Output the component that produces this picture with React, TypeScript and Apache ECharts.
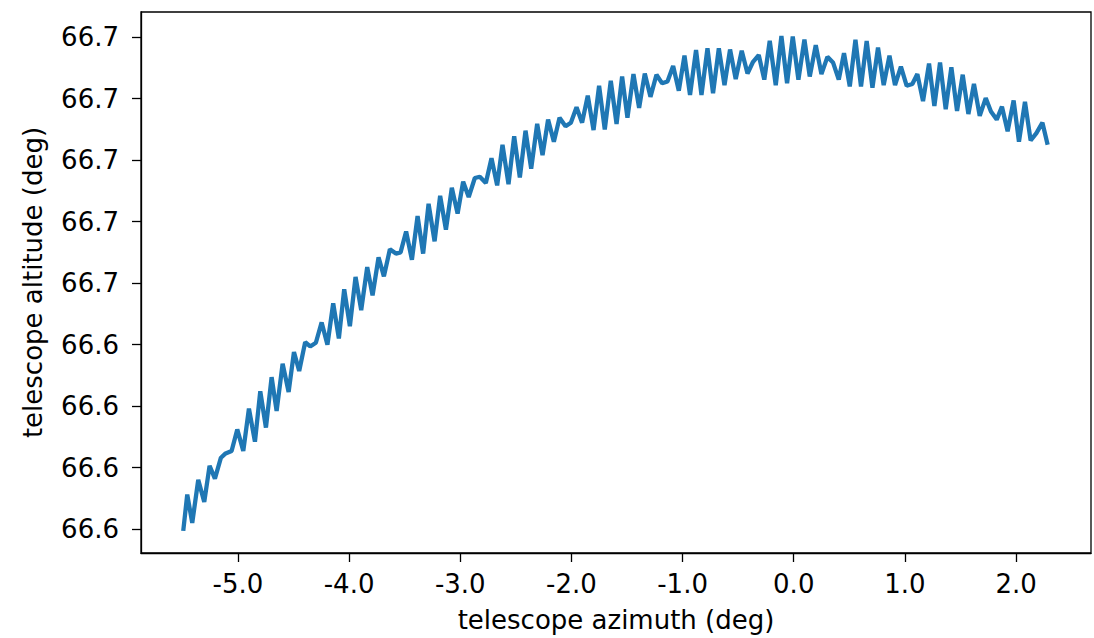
import React, { useEffect, useRef } from "react";
import * as echarts from "echarts";

// telescope azimuth (deg)
const azimuth = [
  -5.492, -5.456, -5.411, -5.357, -5.303, -5.255, -5.207, -5.153, -5.111, -5.057,
  -5.006, -4.952, -4.901, -4.847, -4.799, -4.748, -4.697, -4.652, -4.598, -4.544,
  -4.496, -4.449, -4.395, -4.350, -4.299, -4.247, -4.195, -4.143, -4.092, -4.044,
  -3.993, -3.942, -3.891, -3.837, -3.789, -3.735, -3.687, -3.633, -3.579, -3.537,
  -3.487, -3.435, -3.384, -3.334, -3.285, -3.231, -3.181, -3.129, -3.076, -3.024,
  -2.974, -2.924, -2.869, -2.824, -2.770, -2.719, -2.668, -2.620, -2.566, -2.515,
  -2.464, -2.413, -2.362, -2.308, -2.260, -2.210, -2.158, -2.107, -2.053, -2.005,
  -1.954, -1.904, -1.853, -1.801, -1.751, -1.700, -1.646, -1.594, -1.544, -1.496,
  -1.442, -1.391, -1.340, -1.289, -1.235, -1.184, -1.136, -1.085, -1.034, -0.983,
  -0.933, -0.879, -0.830, -0.776, -0.726, -0.674, -0.623, -0.573, -0.522, -0.468,
  -0.416, -0.366, -0.315, -0.265, -0.216, -0.162, -0.111, -0.060, -0.009, 0.042,
  0.096, 0.144, 0.198, 0.249, 0.303, 0.353, 0.405, 0.452, 0.504, 0.555,
  0.605, 0.656, 0.708, 0.758, 0.809, 0.861, 0.911, 0.964, 1.016, 1.067,
  1.112, 1.163, 1.217, 1.265, 1.316, 1.367, 1.418, 1.469, 1.520, 1.571,
  1.621, 1.673, 1.727, 1.774, 1.826, 1.873, 1.924, 1.978, 2.026, 2.080,
  2.131, 2.183, 2.237, 2.284,
];

// telescope altitude (deg)
const altitude = [
  66.64597, 66.64656, 66.6461, 66.6468, 66.64644, 66.64703, 66.64682, 66.64716, 66.64723, 66.64727,
  66.64762, 66.64727, 66.64796, 66.64742, 66.64824, 66.64765, 66.64847, 66.64792, 66.64869, 66.64823,
  66.64888, 66.64857, 66.64904, 66.64897, 66.64903, 66.64936, 66.649, 66.64967, 66.6491, 66.6499,
  66.6493, 66.6501, 66.64956, 66.65026, 66.6498, 66.65042, 66.65011, 66.65055, 66.65048, 66.6505,
  66.65084, 66.65038, 66.65109, 66.65048, 66.65129, 66.65068, 66.65142, 66.65087, 66.65155, 66.65113,
  66.65165, 66.6514, 66.65171, 66.65173, 66.65163, 66.65203, 66.65159, 66.65225, 66.65161, 66.65239,
  66.65172, 66.65248, 66.65186, 66.65259, 66.65208, 66.65266, 66.6523, 66.65269, 66.65255, 66.65261,
  66.65286, 66.65261, 66.65305, 66.65249, 66.65321, 66.6525, 66.65329, 66.65259, 66.65336, 66.65269,
  66.6534, 66.65285, 66.65341, 66.65303, 66.65339, 66.65325, 66.65328, 66.65353, 66.65313, 66.6537,
  66.65306, 66.65379, 66.65306, 66.65382, 66.65309, 66.65382, 66.65322, 66.6538, 66.65332, 66.65378,
  66.65341, 66.6536, 66.65371, 66.65331, 66.65394, 66.65322, 66.65402, 66.65325, 66.65401, 66.65331,
  66.65396, 66.65336, 66.65387, 66.6534, 66.65368, 66.65359, 66.65331, 66.65374, 66.6532, 66.65396,
  66.6532, 66.65394, 66.65318, 66.65383, 66.65322, 66.6537, 66.65322, 66.65352, 66.65321, 66.65324,
  66.6534, 66.65296, 66.65357, 66.65288, 66.65359, 66.65283, 66.65351, 66.6528, 66.65339, 66.65275,
  66.65324, 66.65272, 66.65301, 66.65279, 66.65266, 66.65287, 66.65247, 66.65297, 66.6523, 66.65295,
  66.65232, 66.65244, 66.65261, 66.65225,
];

const xTicks = [-5, -4, -3, -2, -1, 0, 1, 2];
const yTicks = [66.646, 66.647, 66.648, 66.649, 66.65, 66.651, 66.652, 66.653, 66.654];

const FONT = "DejaVu Sans";
const FS = 26;

export default function App() {
  const ref = useRef<HTMLDivElement>(null);
  useEffect(() => {
    if (!ref.current) return;
    const chart = echarts.init(ref.current, null, { renderer: "svg" });
    const axisCommon = {
      axisLine: { show: true, onZero: false, lineStyle: { color: "#000", width: 1.3 } },
      splitLine: { show: false },
      axisTick: { show: true, inside: false, length: 9, lineStyle: { color: "#000", width: 1.3 } },
      nameTextStyle: { fontFamily: FONT, fontSize: FS, color: "#000" },
    };
    chart.setOption({
      animation: false,
      backgroundColor: "#fff",
      grid: {
        left: 141,
        right: 3,
        top: 12,
        bottom: 83,
        show: true,
        borderColor: "#000",
        borderWidth: 1.3,
        backgroundColor: "transparent",
      },
      xAxis: {
        type: "value",
        min: -5.872,
        max: 2.674,
        ...axisCommon,
        name: "telescope azimuth (deg)",
        nameLocation: "middle",
        nameGap: 54,
        axisTick: { ...axisCommon.axisTick, customValues: xTicks },
        axisLabel: {
          customValues: xTicks,
          margin: 18,
          fontFamily: FONT,
          fontSize: FS,
          color: "#000",
          formatter: (v: number) => v.toFixed(1),
        },
      },
      yAxis: {
        type: "value",
        min: 66.64561,
        max: 66.65441,
        ...axisCommon,
        name: "telescope altitude (deg)",
        nameLocation: "middle",
        nameGap: 95,
        axisTick: { ...axisCommon.axisTick, customValues: yTicks },
        axisLabel: {
          customValues: yTicks,
          margin: 22,
          fontFamily: FONT,
          fontSize: FS,
          color: "#000",
          formatter: (v: number) => (v + 1e-9).toFixed(1),
        },
      },
      series: [
        {
          type: "line",
          data: azimuth.map((x, i) => [x, altitude[i]]),
          showSymbol: false,
          lineStyle: { color: "#1f77b4", width: 4.3 },
          itemStyle: { color: "#1f77b4" },
        },
      ],
    });
    return () => chart.dispose();
  }, []);
  return (
    <div
      ref={ref}
      style={{ position: "absolute", left: 0, top: 0, width: 1094, height: 638 }}
    />
  );
}
